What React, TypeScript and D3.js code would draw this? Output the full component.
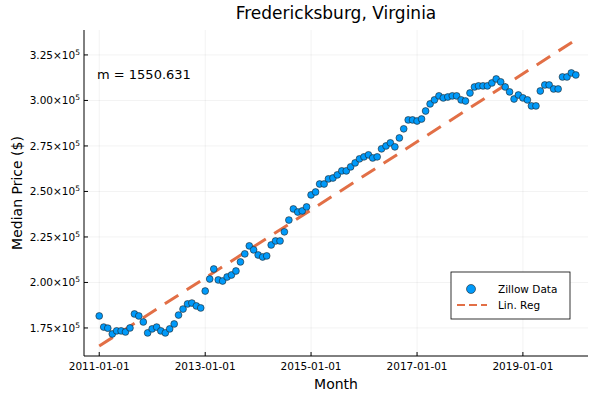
import React, { useEffect, useRef } from 'react';
import * as d3 from 'd3';

// median price in thousands of dollars, monthly from 2011-01
const prices: number[] = [
  181.6, 175.5, 174.9, 171.7, 173.4, 173.4, 172.8, 175.0, 182.7, 181.6, 178.3, 172.3,
  174.5, 175.5, 173.4, 172.3, 174.5, 177.2, 182.1, 185.4, 188.2, 188.7, 187.1, 186.0,
  195.3, 201.9, 207.4, 201.4, 200.8, 203.0, 204.1, 206.3, 211.3, 215.7, 220.1, 217.9,
  215.1, 214.0, 214.6, 220.6, 222.8, 222.8, 227.8, 234.3, 240.4, 238.7, 239.3, 241.5,
  248.1, 249.7, 254.1, 254.1, 256.9, 257.4, 259.1, 261.3, 261.3, 263.5, 265.7, 267.9,
  269.0, 270.1, 268.4, 269.0, 273.4, 275.0, 276.7, 274.5, 279.4, 284.4, 289.3, 289.3,
  288.7, 289.8, 294.2, 298.1, 300.3, 302.5, 301.4, 301.9, 302.5, 302.5, 300.3, 299.7,
  304.1, 307.4, 308.0, 308.0, 308.0, 309.6, 311.8, 310.2, 307.4, 304.7, 300.8, 303.0,
  301.4, 300.3, 297.0, 297.0, 305.2, 308.5, 308.5, 306.3, 306.3, 312.9, 312.9, 315.1, 314.0,
].map(v => v * 1000);
const months = prices.map((_, i) => new Date(2011, i, 1));
const xTicks = [2011, 2013, 2015, 2017, 2019].map(y => new Date(y, 0, 1));
const yTicks = [175000, 200000, 225000, 250000, 275000, 300000, 325000];
const slopeLabel = 'm = 1550.631';

const App: React.FC = () => {
  const svgRef = useRef<SVGSVGElement>(null);

  useEffect(() => {
    if (svgRef.current == null) return;
    const width = 600, height = 400;
    const left = 84, right = 588, top = 30, bottom = 356;
    const font = 'DejaVu Sans, sans-serif';

    const x = d3.scaleTime()
      .domain([new Date(2010, 8, 18), new Date(2020, 2, 25)])
      .range([left, right]);
    const y = d3.scaleLinear().domain([159600, 338700]).range([bottom, top]);

    // least squares over month index
    const n = prices.length;
    const idx = d3.range(n);
    const mx = d3.mean(idx)!, my = d3.mean(prices)!;
    const m = d3.sum(idx, i => (i - mx) * (prices[i] - my)) / d3.sum(idx, i => (i - mx) ** 2);
    const b = my - m * mx;

    const svg = d3.select(svgRef.current).attr('width', width).attr('height', height);
    svg.selectAll('*').remove();
    svg.append('rect').attr('width', width).attr('height', height).attr('fill', 'white');

    // grid
    xTicks.forEach(t => {
      svg.append('line').attr('x1', x(t)).attr('x2', x(t)).attr('y1', top).attr('y2', bottom)
        .attr('stroke', '#000').attr('stroke-opacity', 0.1).attr('stroke-width', 0.5);
    });
    yTicks.forEach(t => {
      svg.append('line').attr('x1', left).attr('x2', right).attr('y1', y(t)).attr('y2', y(t))
        .attr('stroke', '#000').attr('stroke-opacity', 0.1).attr('stroke-width', 0.5);
    });

    // axes
    svg.append('line').attr('x1', left).attr('x2', left).attr('y1', top).attr('y2', bottom).attr('stroke', '#000');
    svg.append('line').attr('x1', left).attr('x2', right).attr('y1', bottom).attr('y2', bottom).attr('stroke', '#000');
    xTicks.forEach(t => {
      svg.append('line').attr('x1', x(t)).attr('x2', x(t)).attr('y1', bottom).attr('y2', bottom - 4).attr('stroke', '#000');
      svg.append('text').attr('x', x(t)).attr('y', bottom + 14).attr('text-anchor', 'middle')
        .attr('font-family', font).attr('font-size', 10.5).text(d3.timeFormat('%Y-%m-%d')(t));
    });
    yTicks.forEach(t => {
      svg.append('line').attr('x1', left).attr('x2', left + 4).attr('y1', y(t)).attr('y2', y(t)).attr('stroke', '#000');
      const txt = svg.append('text').attr('x', left - 4).attr('y', y(t) + 4).attr('text-anchor', 'end')
        .attr('font-family', font).attr('font-size', 10.5);
      txt.append('tspan').text(`${(t / 1e5).toFixed(2)}×10`);
      txt.append('tspan').attr('font-size', 7.5).attr('dy', -4).text('5');
    });

    // regression line
    svg.append('line')
      .attr('x1', x(months[0])).attr('y1', y(b))
      .attr('x2', x(months[n - 1])).attr('y2', y(b + m * (n - 1)))
      .attr('stroke', '#e26f46').attr('stroke-width', 3).attr('stroke-dasharray', '16,10');

    // points
    svg.append('g').selectAll('circle').data(prices).join('circle')
      .attr('cx', (_, i) => x(months[i])).attr('cy', d => y(d)).attr('r', 3.4)
      .attr('fill', '#009afa').attr('stroke', '#222').attr('stroke-width', 0.6);

    // texts
    svg.append('text').attr('x', (left + right) / 2).attr('y', 19).attr('text-anchor', 'middle')
      .attr('font-family', font).attr('font-size', 17).text('Fredericksburg, Virginia');
    svg.append('text').attr('x', (left + right) / 2).attr('y', 389).attr('text-anchor', 'middle')
      .attr('font-family', font).attr('font-size', 14).text('Month');
    svg.append('text').attr('transform', `translate(22,${(top + bottom) / 2}) rotate(-90)`).attr('text-anchor', 'middle')
      .attr('font-family', font).attr('font-size', 14).text('Median Price ($)');
    svg.append('text').attr('x', 97).attr('y', 79).attr('font-family', font).attr('font-size', 13).text(slopeLabel);

    // legend
    const lg = svg.append('g').attr('transform', 'translate(451,272)');
    lg.append('rect').attr('width', 119).attr('height', 47).attr('fill', 'white').attr('stroke', '#000').attr('stroke-width', 0.8);
    lg.append('circle').attr('cx', 20).attr('cy', 17).attr('r', 4.5).attr('fill', '#009afa').attr('stroke', '#222').attr('stroke-width', 0.6);
    lg.append('text').attr('x', 47).attr('y', 21).attr('font-family', font).attr('font-size', 10.5).text('Zillow Data');
    lg.append('line').attr('x1', 6).attr('x2', 36).attr('y1', 33).attr('y2', 33)
      .attr('stroke', '#e26f46').attr('stroke-width', 2).attr('stroke-dasharray', '8,4');
    lg.append('text').attr('x', 47).attr('y', 37).attr('font-family', font).attr('font-size', 10.5).text('Lin. Reg');
  }, []);

  return <svg ref={svgRef} style={{ position: 'absolute', left: 0, top: 0 }}></svg>;
};

export default App;
